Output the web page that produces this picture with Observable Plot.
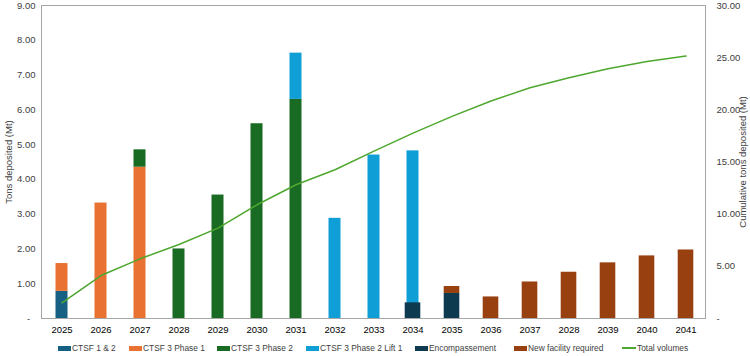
<!DOCTYPE html>
<html>
<head>
<meta charset="utf-8">
<script src="https://cdn.jsdelivr.net/npm/d3@7"></script>
<script src="https://cdn.jsdelivr.net/npm/@observablehq/plot@0.6"></script>
<style>
  html, body { margin: 0; padding: 0; background: #fff; }
  body { width: 750px; height: 356px; overflow: hidden; font-family: "Liberation Sans", Arial, sans-serif; }
  #chart svg { display: block; }
  .legend { position: relative; height: 16px; font-size: 8.4px; color: #404040; }
  .legend .item { position: absolute; top: 0; height: 16px; display: flex; align-items: center; white-space: nowrap; }
  .legend .sw { width: 13px; height: 5px; margin-right: 1px; }
  .legend .ln { width: 14px; height: 2px; margin-right: 1px; }
</style>
</head>
<body>
<div id="chart"></div>
<div class="legend" id="legend"></div>
<script>
// Years on the category axis and the labels printed under them
const years = [2025, 2026, 2027, 2028, 2029, 2030, 2031, 2032, 2033, 2034, 2035, 2036, 2037, 2038, 2039, 2040, 2041];
const yearLabels = ["2025", "2026", "2027", "2028", "2029", "2030", "2031", "2032", "2033", "2034", "2035", "2036", "2037", "2028", "2039", "2040", "2041"];

// Annual tons deposited (Mt) by facility
const ctsf12        = [0.78, 0, 0, 0, 0, 0, 0, 0, 0, 0, 0, 0, 0, 0, 0, 0, 0];
const ctsf3Phase1   = [0.80, 3.32, 4.35, 0, 0, 0, 0, 0, 0, 0, 0, 0, 0, 0, 0, 0, 0];
const ctsf3Phase2   = [0, 0, 0.50, 2.00, 3.55, 5.60, 6.30, 0, 0, 0, 0, 0, 0, 0, 0, 0, 0];
const ctsf3Lift1    = [0, 0, 0, 0, 0, 0, 1.33, 2.88, 4.70, 4.82, 0, 0, 0, 0, 0, 0, 0];
const encompass     = [0, 0, 0, 0, 0, 0, 0, 0, 0, 0.45, 0.72, 0, 0, 0, 0, 0, 0];
const newFacility   = [0, 0, 0, 0, 0, 0, 0, 0, 0, 0, 0.20, 0.62, 1.05, 1.33, 1.60, 1.80, 1.97];

// Cumulative tons deposited (Mt), right axis
const totalVolumes  = [1.50, 4.12, 5.72, 7.09, 8.66, 10.90, 12.82, 14.26, 16.04, 17.77, 19.37, 20.84, 22.12, 23.07, 23.93, 24.64, 25.15];

const colors = {
  "CTSF 1 & 2": "#166083",
  "CTSF 3 Phase 1": "#E97132",
  "CTSF 3 Phase 2": "#196B24",
  "CTSF 3 Phase 2 Lift 1": "#0F9ED5",
  "Encompassement": "#0E3A50",
  "New facility required": "#98400F"
};
const lineColor = "#4EA72E";

const toRows = (series, values) => values.map((v, i) => ({year: years[i], series, value: v}));
const mainBars = [
  ...toRows("CTSF 1 & 2", ctsf12),
  ...toRows("CTSF 3 Phase 1", ctsf3Phase1),
  ...toRows("CTSF 3 Phase 2", ctsf3Phase2),
  ...toRows("CTSF 3 Phase 2 Lift 1", ctsf3Lift1)
];
const wideBars = [
  ...toRows("Encompassement", encompass),
  ...toRows("New facility required", newFacility)
];
const totals = years.map((y, i) => ({year: y, total: totalVolumes[i]}));

const leftMax = 9, rightMax = 30;
const k = leftMax / rightMax;
const fmt = v => v === 0 ? "-\u2007" : v.toFixed(2);
const fmtR = v => v === 0 ? "-" : v.toFixed(2);
const labelOf = new Map(years.map((y, i) => [y, yearLabels[i]]));

const chart = Plot.plot({
  width: 750,
  height: 340,
  marginLeft: 41,
  marginRight: 45,
  marginTop: 5,
  marginBottom: 22,
  style: {fontFamily: "'Liberation Sans', Arial, sans-serif", fontSize: "9.5px", color: "#404040"},
  x: {type: "band", domain: years, padding: 0},
  y: {domain: [0, leftMax]},
  color: {domain: Object.keys(colors), range: Object.values(colors)},
  marks: [
    Plot.frame({stroke: "#a6a6a6"}),
    Plot.barY(mainBars, Plot.stackY({
      x: "year", y: "value", fill: "series", order: Object.keys(colors),
      insetLeft: 13.5, insetRight: 13.5
    })),
    Plot.barY(wideBars, Plot.stackY({
      x: "year", y: "value", fill: "series", order: Object.keys(colors),
      insetLeft: 11.7, insetRight: 11.7
    })),
    Plot.lineY(totals, {x: "year", y: d => d.total * k, stroke: lineColor, strokeWidth: 1.5}),
    Plot.axisX({tickSize: 0, tickPadding: 8, tickFormat: d => labelOf.get(d), fill: "#000", label: null}),
    Plot.axisY(d3.range(0, leftMax + 1), {
      anchor: "left", tickSize: 0, tickPadding: 6, tickFormat: fmt, fill: "#404040",
      label: "Tons deposited (Mt)", labelAnchor: "center", labelArrow: "none", labelOffset: 36
    }),
    Plot.axisY(d3.range(0, rightMax + 1, 5).map(v => v * k), {
      anchor: "right", tickSize: 0, tickPadding: 11, tickFormat: d => fmtR(Math.round(d / k)), fill: "#404040",
      label: "Cumulative tons deposited (Mt)", labelAnchor: "center", labelArrow: "none", labelOffset: 40
    })
  ]
});
document.getElementById("chart").append(chart);

// Legend below the chart, one entry per series plus the total line
const legendX = [58, 129, 217, 306, 415, 514, 622];
const legend = document.getElementById("legend");
Object.entries(colors).forEach(([name, c], i) => {
  const item = document.createElement("div");
  item.className = "item";
  item.style.left = legendX[i] + "px";
  item.innerHTML = `<span class="sw" style="background:${c}"></span><span>${name}</span>`;
  legend.append(item);
});
const lineItem = document.createElement("div");
lineItem.className = "item";
lineItem.style.left = legendX[6] + "px";
lineItem.innerHTML = `<span class="ln" style="background:${lineColor}"></span><span>Total volumes</span>`;
legend.append(lineItem);
</script>
</body>
</html>
